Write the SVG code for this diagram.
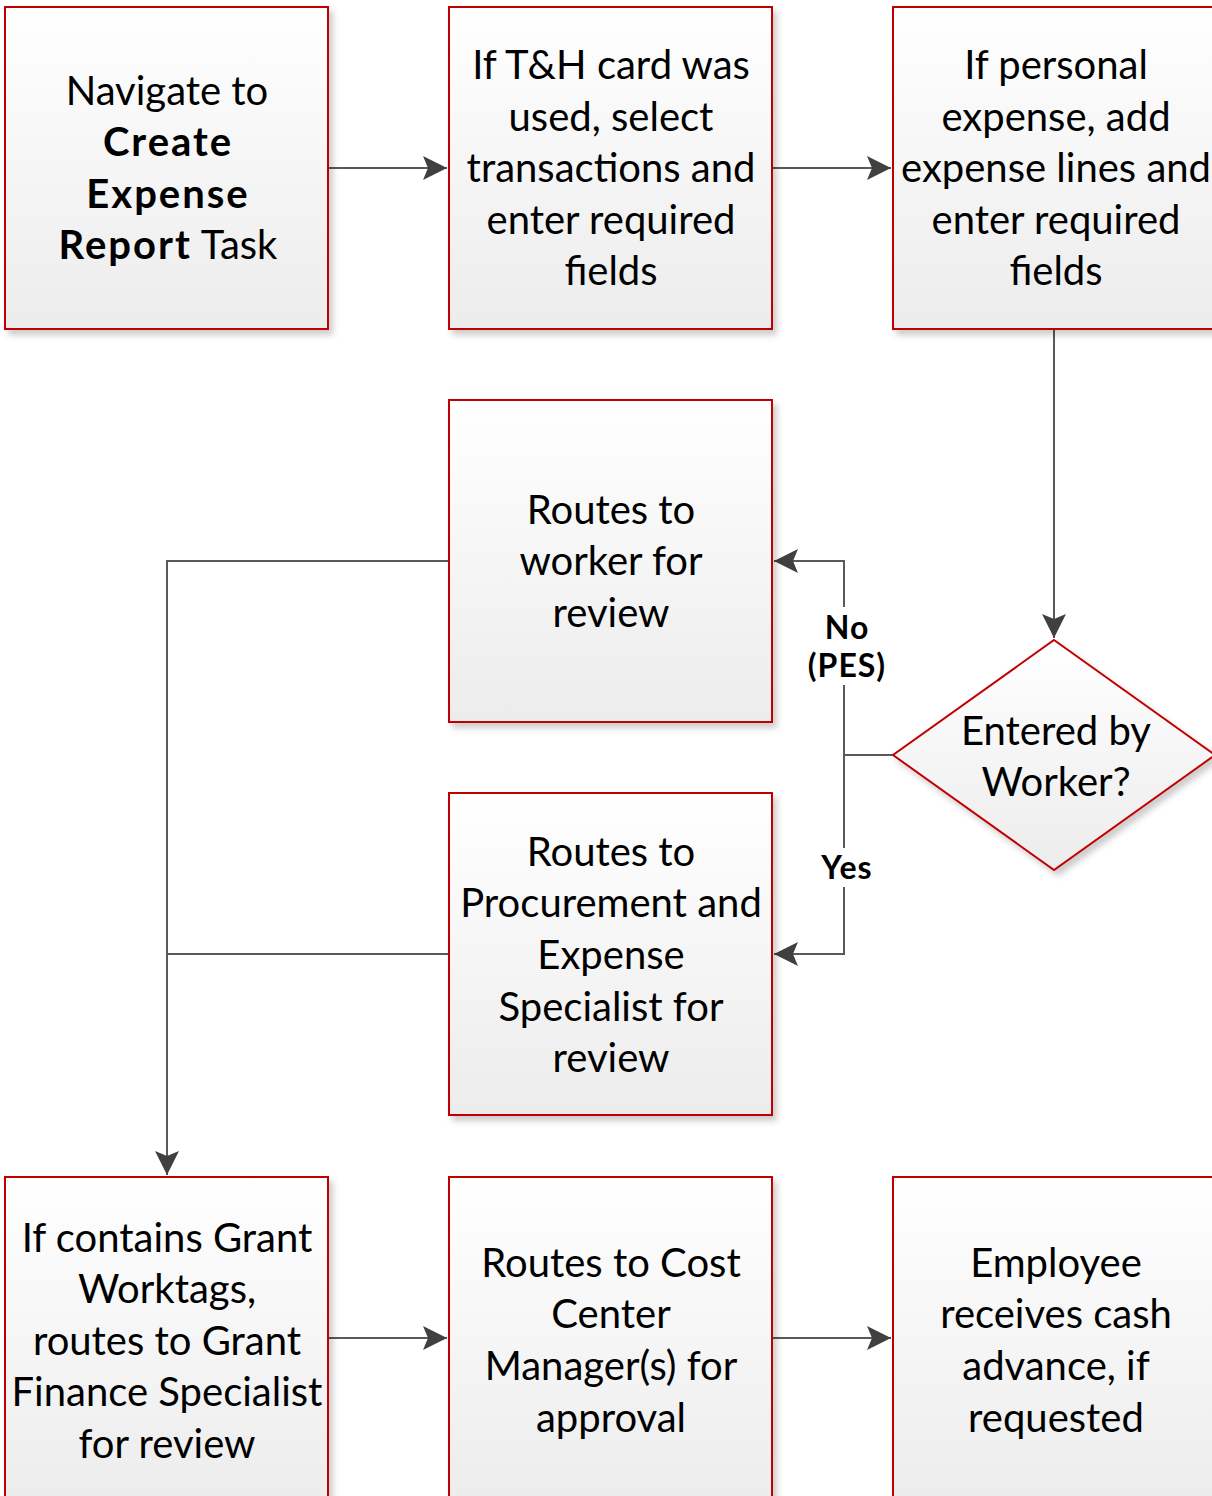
<svg xmlns="http://www.w3.org/2000/svg" width="1212" height="1496" viewBox="0 0 1212 1496">
<style>
.box{fill:url(#g);stroke:#c00000;stroke-width:2;filter:url(#sh)}
.t{font-family:"Lato","Open Sans","Liberation Sans",sans-serif;font-size:40px;fill:#000;text-anchor:middle}
.b{font-weight:bold;letter-spacing:2px}
.lbl{font-family:"Lato","Open Sans","Liberation Sans",sans-serif;font-size:32px;font-weight:bold;letter-spacing:1px;fill:#000;text-anchor:middle}
.c{fill:none;stroke:#595959;stroke-width:2}
</style>
<defs>
<linearGradient id="g" x1="0" y1="0" x2="0" y2="1"><stop offset="0" stop-color="#ffffff"/><stop offset="1" stop-color="#ececec"/></linearGradient>
<filter id="sh" x="-10%" y="-10%" width="130%" height="130%"><feDropShadow dx="4" dy="5" stdDeviation="3" flood-color="#000" flood-opacity="0.2"/></filter>
<marker id="A" viewBox="0 0 24 24" refX="24" refY="12" markerWidth="24" markerHeight="24" markerUnits="userSpaceOnUse" orient="auto"><path d="M0,0 L24,12 L0,24 L5,12 Z" fill="#404040"/></marker>
</defs>
<g id="connectors">
<path class="c" d="M328,168 H447" marker-end="url(#A)"/>
<path class="c" d="M772,168 H891" marker-end="url(#A)"/>
<path class="c" d="M1054,329 V638" marker-end="url(#A)"/>
<path class="c" d="M893,755 H844 V685"/>
<path class="c" d="M844,607 V561 H774" marker-end="url(#A)"/>
<path class="c" d="M844,755 V848"/>
<path class="c" d="M844,887 V954 H774" marker-end="url(#A)"/>
<path class="c" d="M449,561 H167 V1175" marker-end="url(#A)"/>
<path class="c" d="M449,954 H167"/>
<path class="c" d="M328,1338 H447" marker-end="url(#A)"/>
<path class="c" d="M772,1338 H891" marker-end="url(#A)"/>
<text class="lbl" x="847" y="639">No</text>
<text class="lbl" x="847" y="677">(PES)</text>
<text class="lbl" x="847" y="879">Yes</text>
</g>
<g id="n1">
<rect class="box" x="5" y="7" width="323" height="322"/>
<text class="t"><tspan x="167" y="105">Navigate to</tspan><tspan x="168" y="156" class="b">Create</tspan><tspan x="168" y="208" class="b">Expense</tspan><tspan x="168" y="259"><tspan class="b">Report</tspan> Task</tspan></text>
</g>
<g id="n2">
<rect class="box" x="449" y="7" width="323" height="322"/>
<text class="t"><tspan x="611" y="79">If T&amp;H card was</tspan><tspan x="611" y="131">used, select</tspan><tspan x="611" y="182">transactions and</tspan><tspan x="611" y="234">enter required</tspan><tspan x="611" y="285">fields</tspan></text>
</g>
<g id="n3">
<rect class="box" x="893" y="7" width="323" height="322"/>
<text class="t"><tspan x="1056" y="79">If personal</tspan><tspan x="1056" y="131">expense, add</tspan><tspan x="1056" y="182">expense lines and</tspan><tspan x="1056" y="234">enter required</tspan><tspan x="1056" y="285">fields</tspan></text>
</g>
<g id="n4">
<rect class="box" x="449" y="400" width="323" height="322"/>
<text class="t"><tspan x="611" y="524">Routes to</tspan><tspan x="611" y="575">worker for</tspan><tspan x="611" y="627">review</tspan></text>
</g>
<g id="n5">
<rect class="box" x="449" y="793" width="323" height="322"/>
<text class="t"><tspan x="611" y="866">Routes to</tspan><tspan x="611" y="917">Procurement and</tspan><tspan x="611" y="969">Expense</tspan><tspan x="611" y="1021">Specialist for</tspan><tspan x="611" y="1072">review</tspan></text>
</g>
<g id="d1">
<path class="box" d="M1054,640 L1215,755 L1054,870 L893,755 Z"/>
<text class="t"><tspan x="1056" y="745">Entered by</tspan><tspan x="1056" y="796">Worker?</tspan></text>
</g>
<g id="n6">
<rect class="box" x="5" y="1177" width="323" height="330"/>
<text class="t"><tspan x="167" y="1252">If contains Grant</tspan><tspan x="167" y="1303">Worktags,</tspan><tspan x="167" y="1355">routes to Grant</tspan><tspan x="167" y="1406">Finance Specialist</tspan><tspan x="167" y="1458">for review</tspan></text>
</g>
<g id="n7">
<rect class="box" x="449" y="1177" width="323" height="330"/>
<text class="t"><tspan x="611" y="1277">Routes to Cost</tspan><tspan x="611" y="1328">Center</tspan><tspan x="611" y="1380">Manager(s) for</tspan><tspan x="611" y="1432">approval</tspan></text>
</g>
<g id="n8">
<rect class="box" x="893" y="1177" width="323" height="330"/>
<text class="t"><tspan x="1056" y="1277">Employee</tspan><tspan x="1056" y="1328">receives cash</tspan><tspan x="1056" y="1380">advance, if</tspan><tspan x="1056" y="1432">requested</tspan></text>
</g>
</svg>
